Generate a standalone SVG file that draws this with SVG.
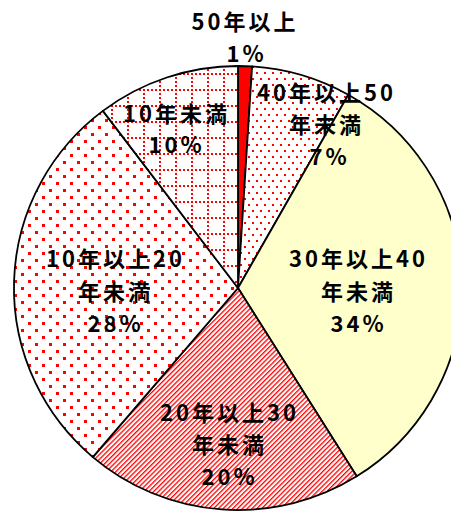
<svg xmlns="http://www.w3.org/2000/svg" width="451" height="511" viewBox="0 0 451 511">
<style>
.lbl{font-family:"Noto Sans CJK JP","Liberation Sans",sans-serif;font-weight:bold;font-size:22px;letter-spacing:3px;fill:#000;text-anchor:middle}
.edge{stroke:#000;stroke-width:1.8;stroke-linejoin:round}
</style>
<defs>
<pattern id="dotsSmall" patternUnits="userSpaceOnUse" width="8" height="12">
<rect width="8" height="12" fill="#fff"/>
<rect x="0" y="0" width="2" height="2" fill="#f00"/>
<rect x="4" y="6" width="2" height="2" fill="#f00"/>
</pattern>
<pattern id="dotsLarge" patternUnits="userSpaceOnUse" width="14" height="14">
<rect width="14" height="14" fill="#fff"/>
<rect x="0" y="0" width="3" height="3" fill="#f00"/>
<rect x="7" y="7" width="3" height="3" fill="#f00"/>
</pattern>
<pattern id="grid" patternUnits="userSpaceOnUse" x="15" y="9" width="16" height="16">
<rect width="16" height="16" fill="#fff"/>
<line x1="0" y1="1" x2="16" y2="1" stroke="#f00" stroke-width="2" stroke-dasharray="2 2"/>
<line x1="1" y1="0" x2="1" y2="16" stroke="#f00" stroke-width="2" stroke-dasharray="2 2"/>
</pattern>
<pattern id="hatch" patternUnits="userSpaceOnUse" width="3.4" height="3.4" patternTransform="rotate(45)">
<rect width="3.4" height="3.4" fill="#fff"/>
<rect width="1.3" height="3.4" fill="#f00"/>
</pattern>
</defs>
<g id="slice-50plus">
<path class="edge" d="M238,288 L238,66 A224,222 0 0 1 252.1,66.4 Z" fill="#f00"/>
</g>
<g id="slice-40-50">
<path class="edge" d="M238,288 L252.1,66.4 A224,222 0 0 1 348.3,94.8 Z" fill="url(#dotsSmall)"/>
</g>
<g id="slice-30-40">
<path class="edge" d="M238,288 L348.3,94.8 A224,222 0 0 1 356.7,476.3 Z" fill="#ffffcc"/>
</g>
<g id="slice-20-30">
<path class="edge" d="M238,288 L356.7,476.3 A224,222 0 0 1 92.8,457.1 Z" fill="url(#hatch)"/>
</g>
<g id="slice-10-20">
<path class="edge" d="M238,288 L92.8,457.1 A224,222 0 0 1 102.9,110.9 Z" fill="url(#dotsLarge)"/>
</g>
<g id="slice-under10">
<path class="edge" d="M238,288 L102.9,110.9 A224,222 0 0 1 238,66 Z" fill="url(#grid)"/>
</g>
<g id="connectors"></g>
<g id="labels">
<text class="lbl" x="245" y="30">50年以上</text>
<text class="lbl" x="246.5" y="62">1%</text>
<text class="lbl" x="326.5" y="101">40年以上50</text>
<text class="lbl" x="326.5" y="133">年未満</text>
<text class="lbl" x="329.5" y="165">7%</text>
<text class="lbl" x="358.5" y="267">30年以上40</text>
<text class="lbl" x="358.5" y="300">年未満</text>
<text class="lbl" x="358.5" y="332">34%</text>
<text class="lbl" x="229.5" y="421">20年以上30</text>
<text class="lbl" x="229.5" y="453">年未満</text>
<text class="lbl" x="229.5" y="485">20%</text>
<text class="lbl" x="115.5" y="267">10年以上20</text>
<text class="lbl" x="115.5" y="300">年未満</text>
<text class="lbl" x="115.5" y="332">28%</text>
<text class="lbl" x="176.5" y="122">10年未満</text>
<text class="lbl" x="176.5" y="153">10%</text>
</g>
</svg>
